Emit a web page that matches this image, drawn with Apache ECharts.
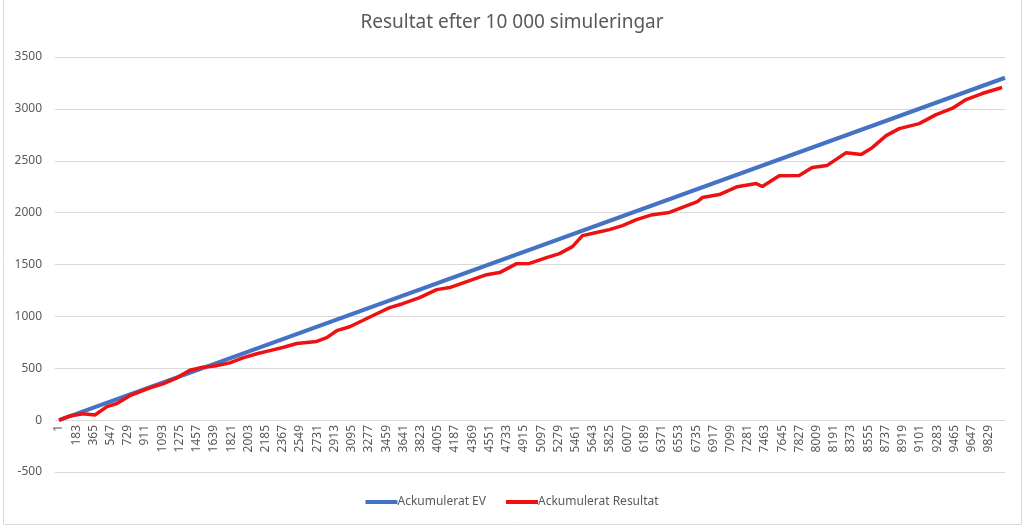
<!DOCTYPE html>
<html>
<head>
<meta charset="utf-8">
<script src="https://cdn.jsdelivr.net/npm/echarts@6/dist/echarts.min.js"></script>
<style>
  html, body { margin: 0; padding: 0; background: #fff; }
  #chart { width: 1024px; height: 529px; }
</style>
</head>
<body>
<div id="chart"></div>
<script>
// x-axis tick labels (simulation number)
const xTickLabels = [1, 183, 365, 547, 729, 911, 1093, 1275, 1457, 1639, 1821, 2003, 2185, 2367,
  2549, 2731, 2913, 3095, 3277, 3459, 3641, 3823, 4005, 4187, 4369, 4551, 4733, 4915, 5097,
  5279, 5461, 5643, 5825, 6007, 6189, 6371, 6553, 6735, 6917, 7099, 7281, 7463, 7645, 7827,
  8009, 8191, 8373, 8555, 8737, 8919, 9101, 9283, 9465, 9647, 9829];

// Ackumulerat EV (straight line)
const evSims = [1, 10000];
const evValues = [0, 3300];

// Ackumulerat Resultat
const resultSims = [1, 117, 254, 381, 508, 613, 750, 962, 1099, 1247, 1384, 1522, 1669, 1807,
  1944, 2092, 2229, 2366, 2514, 2725, 2831, 2937, 3074, 3211, 3370, 3496, 3634, 3813, 3993,
  4130, 4341, 4521, 4658, 4838, 4975, 5154, 5291, 5428, 5534, 5682, 5819, 5957, 6105, 6274,
  6453, 6590, 6749, 6801, 6981, 7171, 7371, 7435, 7614, 7825, 7962, 8121, 8322, 8480, 8596,
  8744, 8882, 9093, 9272, 9441, 9589, 9758, 9969];
const resultValues = [0, 40, 62, 50, 130, 160, 235, 312, 350, 408, 480, 510, 525, 552,
  600, 640, 670, 700, 738, 758, 795, 862, 900, 960, 1030, 1085, 1122, 1180, 1258,
  1278, 1345, 1402, 1422, 1508, 1510, 1566, 1605, 1672, 1778, 1808, 1836, 1875, 1932, 1980,
  2002, 2050, 2106, 2145, 2174, 2250, 2280, 2252, 2356, 2358, 2434, 2455, 2578, 2560, 2626,
  2742, 2810, 2858, 2945, 3004, 3090, 3148, 3206];

const zip = (xs, ys) => xs.map((x, i) => [x, ys[i]]);

const textColor = "#595959";
const gridColor = "#d9d9d9";

const chart = echarts.init(document.getElementById("chart"));

chart.setOption({
  animation: false,
  textStyle: { fontFamily: "Noto Sans" },
  title: {
    text: "Resultat efter 10 000 simuleringar",
    left: "center",
    top: 8,
    textStyle: { color: textColor, fontSize: 19, fontWeight: "normal", fontFamily: "Noto Sans" },
  },
  graphic: [
    {
      type: "rect",
      shape: { x: 3.5, y: -5, width: 1018, height: 529.5 },
      style: { fill: null, stroke: gridColor, lineWidth: 1 },
      silent: true,
    },
  ],
  grid: { left: 55, right: 19, top: 57, bottom: 57 },
  legend: {
    bottom: 16,
    left: "center",
    icon: "rect",
    itemWidth: 32,
    itemHeight: 4,
    itemGap: 20,
    textStyle: { color: textColor, fontSize: 12, padding: [0, 0, 0, -5] },
    data: ["Ackumulerat EV", "Ackumulerat Resultat"],
  },
  xAxis: {
    type: "value",
    min: -41,
    max: 10000,
    position: "bottom",
    // lift the axis from the -500 line up to the zero line
    offset: -52,
    axisLine: { onZero: false, lineStyle: { color: gridColor, width: 1 } },
    axisTick: { show: false },
    splitLine: { show: false },
    axisLabel: {
      customValues: xTickLabels,
      formatter: (v) => String(v),
      rotate: 90,
      color: textColor,
      fontSize: 12,
      margin: 5,
    },
  },
  yAxis: {
    type: "value",
    min: -500,
    max: 3500,
    interval: 500,
    axisLine: { show: false, onZero: false },
    axisTick: { show: false },
    splitLine: { lineStyle: { color: gridColor, width: 1 } },
    axisLabel: { color: textColor, fontSize: 12, margin: 13, formatter: (v) => String(v) },
  },
  series: [
    {
      name: "Ackumulerat EV",
      type: "line",
      data: zip(evSims, evValues),
      showSymbol: false,
      lineStyle: { color: "#4472C4", width: 4 },
      itemStyle: { color: "#4472C4" },
      z: 2,
    },
    {
      name: "Ackumulerat Resultat",
      type: "line",
      data: zip(resultSims, resultValues),
      showSymbol: false,
      lineStyle: { color: "#EE1111", width: 3.5 },
      itemStyle: { color: "#EE1111" },
      z: 3,
    },
  ],
});
</script>
</body>
</html>
